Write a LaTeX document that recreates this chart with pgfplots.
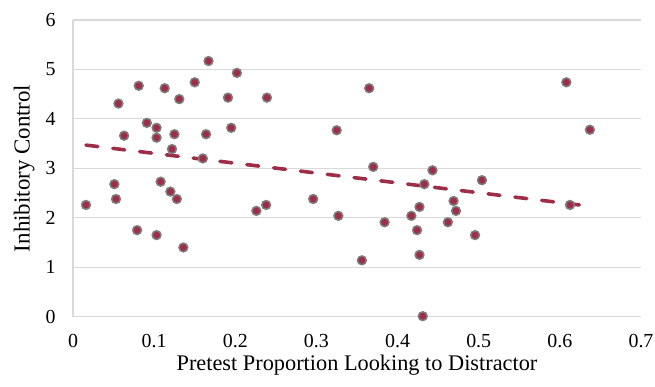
\documentclass[border=0pt]{standalone}
\usepackage{fontspec}
\setmainfont{Liberation Serif}
\usepackage{pgfplots}
\pgfplotsset{compat=1.18}
\definecolor{mk}{RGB}{158,46,72}
\definecolor{mkedge}{RGB}{125,125,125}
\definecolor{gridc}{RGB}{217,217,217}
\begin{document}
\begin{tikzpicture}
\useasboundingbox (0,0) rectangle (655bp,387bp);
\begin{axis}[
  at={(73bp,70.3bp)}, anchor=south west,
  scale only axis, width=568bp, height=296.7bp,
  xmin=0, xmax=0.7, ymin=0, ymax=6,
  xtick={0,0.1,...,0.7}, ytick={0,1,...,6},
  xticklabels={0,0.1,0.2,0.3,0.4,0.5,0.6,0.7},
  /pgf/number format/assume math mode=true,
  axis lines=left, axis line style={draw=gridc, line width=1.1pt, -},
  ymajorgrids, grid style={draw=gridc, line width=1.1pt},
  major tick length=0pt,
  tick label style={font=\fontsize{20}{20}\selectfont},
  xticklabel style={yshift=-14bp},
  yticklabel style={xshift=-14bp},
  xlabel={Pretest Proportion Looking to Distractor},
  ylabel={Inhibitory Control},
  xlabel style={font=\fontsize{22.4}{22}\selectfont, yshift=0bp},
  ylabel style={font=\fontsize{23}{23}\selectfont, yshift=4bp},
  clip=false,
]
\addplot[only marks, mark=*, mark size=4.4bp, mark options={fill=mk, draw=mkedge, line width=1.5bp}] coordinates {
(0.016,2.26) (0.051,2.68) (0.053,2.38) (0.056,4.31) (0.063,3.66)
(0.079,1.75) (0.081,4.67) (0.091,3.92) (0.103,3.82) (0.103,3.62)
(0.103,1.65) (0.108,2.73) (0.113,4.62) (0.120,2.53) (0.122,3.39)
(0.125,3.69) (0.128,2.38) (0.131,4.40) (0.136,1.40) (0.150,4.74)
(0.160,3.20) (0.164,3.69) (0.167,5.17) (0.191,4.43) (0.195,3.82)
(0.202,4.93) (0.226,2.14) (0.238,2.26) (0.239,4.43) (0.296,2.38)
(0.325,3.77) (0.327,2.04) (0.356,1.14) (0.365,4.62) (0.370,3.03)
(0.384,1.91) (0.417,2.04) (0.424,1.75) (0.427,2.22) (0.427,1.25)
(0.431,0.01) (0.433,2.68) (0.443,2.96) (0.462,1.91) (0.469,2.34)
(0.472,2.14) (0.4955,1.65) (0.504,2.76) (0.608,4.74) (0.6125,2.26)
(0.637,3.78)
};
\addplot[mk, line width=3.6bp, line cap=round, dash pattern=on 12bp off 15bp, no marks] coordinates {(0.016,3.47) (0.624,2.26)};
\end{axis}
\end{tikzpicture}
\end{document}
